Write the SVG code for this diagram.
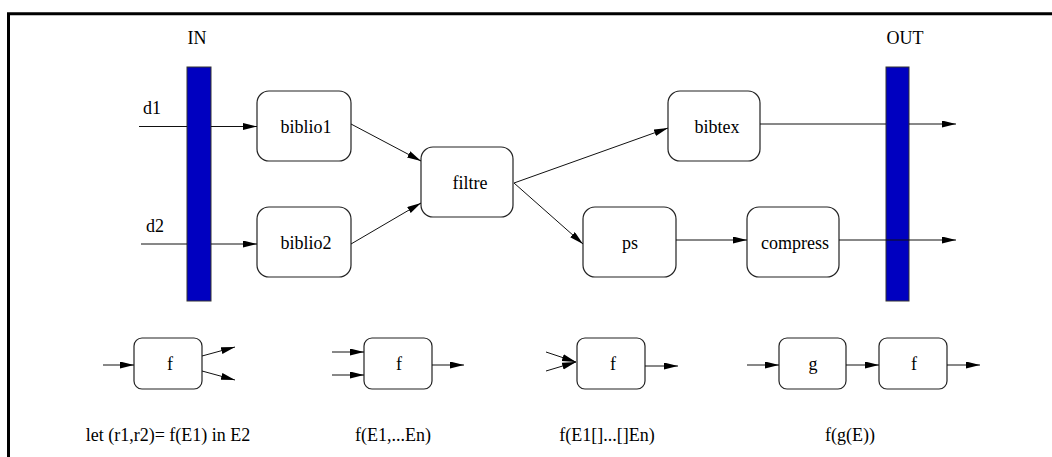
<svg xmlns="http://www.w3.org/2000/svg" width="1052" height="457" viewBox="0 0 1052 457">
<style>
text{font-family:"Liberation Serif","Times New Roman",serif;font-size:18px;fill:#000}
.box{fill:#fff;stroke:#222;stroke-width:1.2}
.bar{fill:#0000c0;stroke:#333;stroke-width:1}
.c{stroke:#111;stroke-width:1;fill:none}
.a{marker-end:url(#ah)}
.frame{stroke:#000;stroke-width:3;fill:none}
</style>
<defs>
<marker id="ah" markerUnits="userSpaceOnUse" markerWidth="15" markerHeight="8" refX="14" refY="3.5" orient="auto">
<path d="M0,0 L14,3.5 L0,7 z" fill="#000"/>
</marker>
</defs>
<path class="frame" d="M8.5,460 L8.5,13.8 L1052,13.8"/>
<g id="in">
<rect class="bar" x="187" y="67" width="24" height="234"/>
<text x="197" y="44" text-anchor="middle">IN</text>
</g>
<g id="out">
<rect class="bar" x="886" y="67" width="23" height="234"/>
<text x="905" y="44" text-anchor="middle">OUT</text>
</g>
<g id="labels">
<text x="143" y="114">d1</text>
<text x="146" y="232">d2</text>
</g>
<g id="biblio1"><rect class="box" x="257" y="91" width="94" height="70" rx="12"/><text x="306" y="133" text-anchor="middle">biblio1</text></g>
<g id="biblio2"><rect class="box" x="257" y="207" width="94" height="70" rx="12"/><text x="306" y="249" text-anchor="middle">biblio2</text></g>
<g id="filtre"><rect class="box" x="421" y="147" width="92" height="70" rx="12"/><text x="470" y="189" text-anchor="middle">filtre</text></g>
<g id="bibtex"><rect class="box" x="668" y="91" width="92" height="70" rx="12"/><text x="717" y="133" text-anchor="middle">bibtex</text></g>
<g id="ps"><rect class="box" x="583" y="207" width="93" height="70" rx="12"/><text x="630" y="249" text-anchor="middle">ps</text></g>
<g id="compress"><rect class="box" x="747" y="207" width="92" height="70" rx="12"/><text x="795" y="249" text-anchor="middle">compress</text></g>
<g id="ex1"><rect class="box" x="134" y="338" width="68" height="51" rx="8"/><text x="170" y="370" text-anchor="middle">f</text>
<text x="168" y="441" text-anchor="middle">let (r1,r2)= f(E1) in E2</text></g>
<g id="ex2"><rect class="box" x="364" y="338" width="68" height="51" rx="8"/><text x="399" y="370" text-anchor="middle">f</text>
<text x="393" y="441" text-anchor="middle">f(E1,...En)</text></g>
<g id="ex3"><rect class="box" x="577" y="338" width="68" height="51" rx="8"/><text x="613" y="370" text-anchor="middle">f</text>
<text x="607" y="441" text-anchor="middle">f(E1[]...[]En)</text></g>
<g id="ex4g"><rect class="box" x="779" y="338" width="67" height="51" rx="8"/><text x="813" y="370" text-anchor="middle">g</text></g>
<g id="ex4f"><rect class="box" x="879" y="338" width="68" height="51" rx="8"/><text x="914" y="370" text-anchor="middle">f</text>
<text x="850" y="441" text-anchor="middle">f(g(E))</text></g>
<g id="connectors">
<line class="c" x1="139" y1="126.5" x2="187" y2="126.5"/>
<line class="c a" x1="211" y1="126.5" x2="257" y2="126.5"/>
<line class="c" x1="141" y1="244" x2="187" y2="244"/>
<line class="c a" x1="211" y1="244" x2="257" y2="244"/>
<line class="c a" x1="351" y1="124" x2="421" y2="161"/>
<line class="c a" x1="351" y1="244" x2="421" y2="203"/>
<line class="c a" x1="514" y1="183" x2="668" y2="128"/>
<line class="c a" x1="514" y1="183" x2="583" y2="244"/>
<line class="c a" x1="676" y1="240" x2="747" y2="240"/>
<line class="c" x1="760" y1="124" x2="886" y2="124"/>
<line class="c a" x1="909" y1="124" x2="956" y2="124"/>
<line class="c a" x1="839" y1="240" x2="956" y2="240"/>
<line class="c a" x1="103" y1="365" x2="134" y2="365"/>
<line class="c a" x1="202" y1="356" x2="235" y2="347"/>
<line class="c a" x1="202" y1="371" x2="235" y2="380"/>
<line class="c a" x1="332" y1="352" x2="364" y2="352"/>
<line class="c a" x1="332" y1="375" x2="364" y2="375"/>
<line class="c a" x1="432" y1="365" x2="464" y2="365"/>
<line class="c a" x1="546" y1="352" x2="576" y2="362"/>
<line class="c a" x1="546" y1="371" x2="576" y2="362"/>
<line class="c a" x1="645" y1="366" x2="678" y2="366"/>
<line class="c a" x1="747" y1="365" x2="779" y2="365"/>
<line class="c a" x1="846" y1="365" x2="879" y2="365"/>
<line class="c a" x1="947" y1="365" x2="980" y2="365"/>
</g>
</svg>
